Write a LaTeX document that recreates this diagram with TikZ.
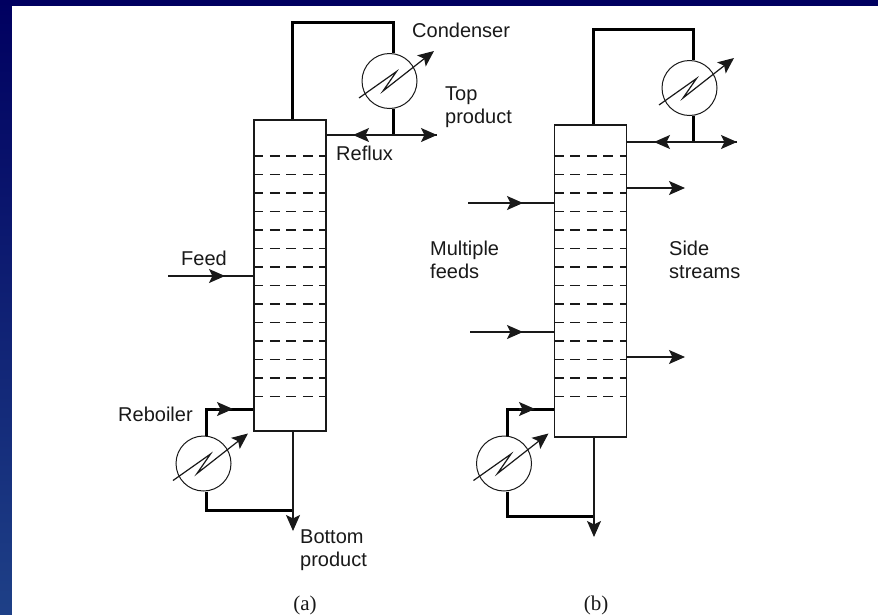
\documentclass[tikz,border=0pt]{standalone}
\usepackage{fontspec}
\setmainfont{Liberation Sans}
\newfontfamily\capfont{Liberation Serif}
\usetikzlibrary{arrows.meta}
\definecolor{slidetop}{RGB}{0,0,96}
\definecolor{slidebottom}{RGB}{30,64,135}
\definecolor{ink}{RGB}{25,25,25}
\tikzset{
  column/.style={draw=ink,line width=1.2pt,inner sep=0pt,minimum width=72pt},
  exchanger/.style={circle,draw=ink,line width=1pt,inner sep=0pt,minimum size=55pt},
  stream/.style={draw=ink,line width=1.2pt},
  vapour/.style={draw=black,line width=3pt},
  tip/.style={-{Stealth[length=16pt,width=14pt,inset=3.5pt]}},
  label/.style={text=ink,font=\fontsize{20}{23}\selectfont,inner sep=0pt,anchor=west,align=left},
  caption/.style={text=ink,inner sep=0pt,font=\capfont\fontsize{21}{24}\selectfont},
  tray/.style={draw=ink,line width=1.2pt,dash pattern=on 10pt off 6.5pt}
}
\newcommand{\zigzag}[1]{\draw[stream,tip,shift={(#1)}] (-30.5,17) -- (7,-9.5) -- (-6.5,10) -- (44.5,-30);}
\begin{document}
\begin{tikzpicture}[x=1pt,y=-1pt]
\useasboundingbox (0,0) rectangle (878,614);
\shade[top color=slidetop,bottom color=slidebottom] (0,0) rectangle (878,614);
\fill[white] (12,6) rectangle (880,616);

\node[column,minimum height=311pt] (cola) at (290,275.5) {};
\node[exchanger] (conda) at (389.5,81) {};
\node[exchanger] (reba) at (203.5,463.5) {};
\foreach \y in {156,174.5,...,398} \draw[tray] (cola.west |- 0,\y) -- (cola.east |- 0,\y);
\zigzag{conda}
\zigzag{reba}
\coordinate (refluxa) at (353,135);
\coordinate (topa) at (437,135);
\coordinate (joina) at (393,135);
\coordinate (feeda) at (168,276);
\coordinate (feedtipa) at (225,276);
\coordinate (boila) at (233,409);
\coordinate (bota) at (293,531);
\draw[vapour] ([xshift=2pt]cola.north) |- (393,22) -- ([xshift=3.5pt]conda.north);
\draw[vapour] ([xshift=3.5pt]conda.south) -- (joina);
\draw[stream] (cola.east |- joina) -- (topa);
\draw[stream,tip] (joina) -- (refluxa);
\draw[stream,tip] (joina) -- (topa);
\draw[stream] (feeda) -- (cola.west |- feeda);
\draw[stream,tip] (feeda) -- (feedtipa);
\draw[vapour] ([xshift=2.5pt]reba.north) |- (cola.west |- boila);
\draw[stream,tip] (216,409) -- (boila);
\draw[vapour] ([xshift=2.5pt]reba.south) |- (293,510);
\draw[stream,tip] ([xshift=3pt]cola.south) -- (bota);

\node[column,minimum height=312pt] (colb) at (590.5,281) {};
\node[exchanger] (condb) at (689.5,88) {};
\node[exchanger] (rebb) at (504,463.5) {};
\foreach \y in {156,174.5,...,398} \draw[tray] (colb.west |- 0,\y) -- (colb.east |- 0,\y);
\zigzag{condb}
\zigzag{rebb}
\coordinate (refluxb) at (654,142);
\coordinate (topb) at (737,142);
\coordinate (joinb) at (693,142);
\coordinate (feedb) at (468,203);
\coordinate (feedtipb) at (523,203);
\coordinate (feedc) at (470,332);
\coordinate (feedtipc) at (523,332);
\coordinate (sideb) at (685,188);
\coordinate (sidec) at (685,357);
\coordinate (boilb) at (535,409);
\coordinate (botb) at (594,537);
\draw[vapour] ([xshift=2.5pt]colb.north) |- (693,29) -- ([xshift=3.5pt]condb.north);
\draw[vapour] ([xshift=3.5pt]condb.south) -- (joinb);
\draw[stream] (colb.east |- joinb) -- (topb);
\draw[stream,tip] (joinb) -- (refluxb);
\draw[stream,tip] (joinb) -- (topb);
\draw[stream] (feedb) -- (colb.west |- feedb);
\draw[stream,tip] (feedb) -- (feedtipb);
\draw[stream] (feedc) -- (colb.west |- feedc);
\draw[stream,tip] (feedc) -- (feedtipc);
\draw[stream,tip] (colb.east |- sideb) -- (sideb);
\draw[stream,tip] (colb.east |- sidec) -- (sidec);
\draw[vapour] ([xshift=3pt]rebb.north) |- (colb.west |- boilb);
\draw[stream,tip] (519,409) -- (boilb);
\draw[vapour] ([xshift=3pt]rebb.south) |- (594,516);
\draw[stream,tip] ([xshift=3.5pt]colb.south) -- (botb);

\node[label] (condlabel) at (412,30) {Condenser};
\node[label] (toplabel) at (445,107) {Top\\product};
\node[label] (refluxlabel) at (336,153) {Reflux};
\node[label] (feedlabel) at (181,258) {Feed};
\node[label] (reblabel) at (118,414) {Reboiler};
\node[label] (botlabel) at (300,550) {Bottom\\product};
\node[label] (feedslabel) at (430,260) {Multiple\\feeds};
\node[label] (sidelabel) at (669,260) {Side\\streams};
\node[caption] (capa) at (305,605) {(a)};
\node[caption] (capb) at (596,605) {(b)};
\end{tikzpicture}
\end{document}
